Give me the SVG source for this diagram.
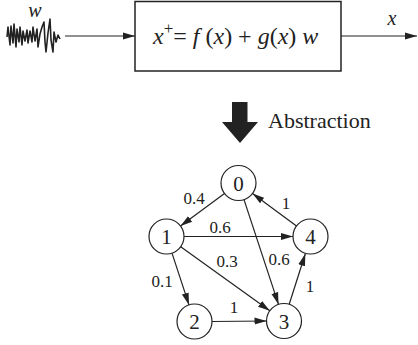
<svg xmlns="http://www.w3.org/2000/svg" width="418" height="345" viewBox="0 0 418 345" font-family="'Liberation Serif', 'DejaVu Serif', serif">
<style>
text{font-family:'Liberation Serif','DejaVu Serif',serif;fill:#222}
.i{font-style:italic}
.n{fill:#fff;stroke:#222;stroke-width:1.2}
.e{stroke:#222;stroke-width:1.2;fill:none;marker-end:url(#ah)}
.lbl{font-size:17px;text-anchor:middle}
.nl{font-size:21px;text-anchor:middle}
</style>
<defs>
<marker id="ah" markerUnits="userSpaceOnUse" markerWidth="13" markerHeight="9" refX="12" refY="4.5" orient="auto">
<path d="M0,1 L12,4.5 L0,8 Z" fill="#222"/>
</marker>
</defs>
<rect width="418" height="345" fill="#fff"/>
<g id="noise">
<path d="M7,37 L8,27 L10,45 L11,26 L13,43 L14,24 L16,47 L17,29 L19,42 L20,27 L22,45 L23,31 L25,41 L27,30 L28,43 L30,31 L32,42 L33,27 L35,41 L37,29 L38,47 L40,34 L42,27 L44,22 L45,42 L46,52 L48,33 L50,19 L51,40 L53,52 L54,32 L56,42 L58,35 L60,39" fill="none" stroke="#222" stroke-width="1.6" stroke-linejoin="round"/>
<text class="i" x="35" y="17" font-size="20" text-anchor="middle">w</text>
</g>
<g id="system">
<rect x="135" y="1.5" width="206" height="69.5" fill="#fff" stroke="#222" stroke-width="1.5"/>
<text x="153" y="44" font-size="24"><tspan class="i">x</tspan><tspan dy="-10" font-size="17">+</tspan><tspan dy="10">= </tspan><tspan class="i">f</tspan> (<tspan class="i">x</tspan>) + <tspan class="i">g</tspan>(<tspan class="i">x</tspan>) <tspan class="i">w</tspan></text>
</g>
<g id="output-label">
<text class="i" x="392" y="25" font-size="20" text-anchor="middle">x</text>
</g>
<g id="abstraction">
<polygon points="232,102 247.5,102 247.5,122 258,122 240,143 222,122 232,122" fill="#222"/>
<text x="268" y="128" font-size="22">Abstraction</text>
</g>
<g id="connectors">
<line x1="65" y1="36" x2="135" y2="36" class="e"/>
<line x1="341" y1="36" x2="417" y2="36" class="e"/>
<line x1="224.5" y1="193.4" x2="180.5" y2="226.1" class="e"/>
<line x1="184" y1="236.5" x2="293" y2="236.5" class="e"/>
<line x1="180.7" y1="246.7" x2="269.8" y2="310.8" class="e"/>
<line x1="244" y1="199.6" x2="278.5" y2="304.4" class="e"/>
<line x1="172" y1="253.1" x2="189" y2="304.9" class="e"/>
<line x1="212" y1="321.5" x2="266.5" y2="321" class="e"/>
<line x1="289.2" y1="304.3" x2="305.3" y2="253.8" class="e"/>
<line x1="296.5" y1="226.1" x2="252.5" y2="193.4" class="e"/>
<text class="lbl" x="194" y="204">0.4</text>
<text class="lbl" x="220" y="233">0.6</text>
<text class="lbl" x="227" y="267">0.3</text>
<text class="lbl" x="279" y="265">0.6</text>
<text class="lbl" x="162" y="287">0.1</text>
<text class="lbl" x="234" y="313">1</text>
<text class="lbl" x="310" y="292">1</text>
<text class="lbl" x="286" y="209">1</text>
</g>
<g id="node0"><circle class="n" cx="238.5" cy="183" r="17.5"/><text class="nl" x="238.5" y="190.5">0</text></g>
<g id="node1"><circle class="n" cx="166.5" cy="236.5" r="17.5"/><text class="nl" x="166.5" y="244">1</text></g>
<g id="node2"><circle class="n" cx="194.5" cy="321.5" r="17.5"/><text class="nl" x="194.5" y="329">2</text></g>
<g id="node3"><circle class="n" cx="284" cy="321" r="17.5"/><text class="nl" x="284" y="328.5">3</text></g>
<g id="node4"><circle class="n" cx="310.5" cy="236.5" r="17.5"/><text class="nl" x="310.5" y="244">4</text></g>
</svg>
